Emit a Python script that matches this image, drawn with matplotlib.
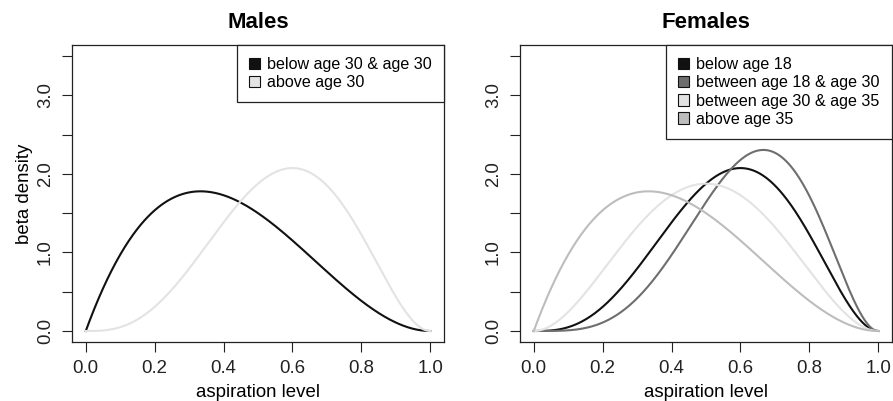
import math
import numpy as np
import matplotlib
matplotlib.use("Agg")
import matplotlib.pyplot as plt
from matplotlib.patches import Patch

plt.rcParams['font.family'] = ['Liberation Sans', 'DejaVu Sans']

# Beta distribution parameters (alpha, beta) for each group
male_labels = ["below age 30 & age 30", "above age 30"]
male_alpha = [2, 4]
male_beta = [3, 3]
male_colors = ["#111111", "#e3e3e3"]

female_labels = ["below age 18", "between age 18 & age 30",
                 "between age 30 & age 35", "above age 35"]
female_alpha = [4, 5, 3, 2]
female_beta = [3, 3, 3, 3]
female_colors = ["#111111", "#6e6e6e", "#e3e3e3", "#bdbdbd"]

x_ticks = [0.0, 0.2, 0.4, 0.6, 0.8, 1.0]
y_ticks = [0.0, 0.5, 1.0, 1.5, 2.0, 2.5, 3.0, 3.5]
y_ticklabels = ["0.0", "", "1.0", "", "2.0", "", "3.0", ""]


def beta_pdf(x, a, b):
    c = math.gamma(a + b) / (math.gamma(a) * math.gamma(b))
    return c * x ** (a - 1) * (1 - x) ** (b - 1)


fig = plt.figure(figsize=(8.93, 4.01), dpi=100)
W, H = 893, 401


def make_ax(left_px, title, labels, alphas, betas, colors, ylabel):
    ax = fig.add_axes([left_px / W, 1 - 342 / H, 372 / W, 297 / H])
    xs = np.linspace(0, 1, 401)
    for a, b, c in zip(alphas, betas, colors):
        ax.plot(xs, beta_pdf(xs, a, b), color=c, lw=1.5)
    ax.set_xlim(-0.04, 1.04)
    ax.set_ylim(-0.14, 3.64)
    ax.set_xticks(x_ticks)
    ax.set_xticklabels([f"{v:.1f}" for v in x_ticks])
    ax.set_yticks(y_ticks)
    ax.set_yticklabels(y_ticklabels, rotation=90, va='center')
    ax.tick_params(axis='both', direction='out', length=7, width=0.8,
                   labelsize=13.4, pad=6, colors='#222222')
    for s in ax.spines.values():
        s.set_linewidth(0.9)
        s.set_color('#222222')
    ax.set_title(title, fontsize=16, fontweight='bold', pad=12)
    ax.set_xlabel("aspiration level", fontsize=13.4, labelpad=5)
    if ylabel:
        ax.set_ylabel("beta density", fontsize=13.4, labelpad=3)
    handles = [Patch(facecolor=c, edgecolor='#111111', linewidth=0.8) for c in colors]
    leg = ax.legend(handles, labels, loc='upper right', borderaxespad=0,
                    fontsize=11.6, frameon=True, fancybox=False,
                    edgecolor='#222222', framealpha=1, handlelength=0.7,
                    handleheight=0.7, handletextpad=0.45, labelspacing=0.2,
                    borderpad=0.75)
    leg.get_frame().set_linewidth(0.9)
    return ax


make_ax(72, "Males", male_labels, male_alpha, male_beta, male_colors, True)
make_ax(520, "Females", female_labels, female_alpha, female_beta, female_colors, False)

fig.savefig("out.png", dpi=100)
